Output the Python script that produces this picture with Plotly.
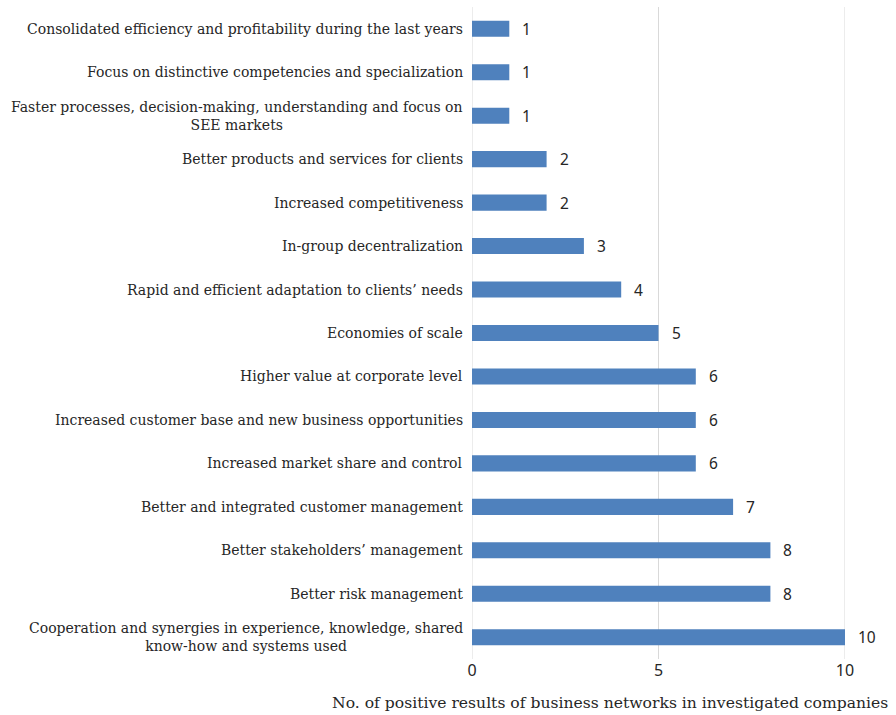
import plotly.graph_objects as go

categories = [
    "Cooperation and synergies in experience, knowledge, shared<br>know-how and systems used",
    "Better risk management",
    "Better stakeholders’ management",
    "Better and integrated customer management",
    "Increased market share and control",
    "Increased customer base and new business opportunities",
    "Higher value at corporate level",
    "Economies of scale",
    "Rapid and efficient adaptation to clients’ needs",
    "In-group decentralization",
    "Increased competitiveness",
    "Better products and services for clients",
    "Faster processes, decision-making, understanding and focus on<br>SEE markets",
    "Focus on distinctive competencies and specialization",
    "Consolidated efficiency and profitability during the last years",
]
values = [10, 8, 8, 7, 6, 6, 6, 5, 4, 3, 2, 2, 1, 1, 1]
x_ticks = [0, 5, 10]
x_title = "No. of positive results of business networks in investigated companies"

serif = "'DejaVu Serif', serif"
sans = "'Noto Sans', 'Liberation Sans', sans-serif"

fig = go.Figure()
fig.add_trace(go.Bar(
    y=categories, x=values, orientation="h",
    marker=dict(color="#4F81BD", line=dict(width=0)),
    width=0.37,
))

for c, v in zip(categories, values):
    fig.add_annotation(x=v, y=c, text=str(v), showarrow=False,
                       xanchor="left", xshift=11,
                       font=dict(family=sans, size=15.5, color="#262626"))
    fig.add_annotation(x=0, y=c, text=c, showarrow=False,
                       xanchor="right", align="center", xshift=-7,
                       font=dict(family=serif, size=14, color="#262626"))

for t in x_ticks:
    fig.add_shape(type="line", xref="x", yref="paper", x0=t, x1=t, y0=0, y1=1,
                  line=dict(color="#D9D9D9", width=1), layer="below")

fig.add_annotation(xref="paper", yref="paper", x=1.1206, y=0, yshift=-33,
                   text=x_title, showarrow=False, xanchor="right", yanchor="top",
                   font=dict(family=serif, size=15.6, color="#262626"))

fig.update_layout(
    width=896, height=715,
    margin=dict(l=472, r=51, t=7, b=56),
    plot_bgcolor="white", paper_bgcolor="white",
    showlegend=False,
)
fig.update_xaxes(range=[0, 10], tickvals=x_ticks, showgrid=False,
                 zeroline=False, showline=False,
                 tickfont=dict(family=sans, size=16, color="#262626"),
                 ticks="", ticklen=0)
fig.update_yaxes(showgrid=False, zeroline=False, showline=False, ticks="",
                 showticklabels=False)

fig.write_html("out.html")
